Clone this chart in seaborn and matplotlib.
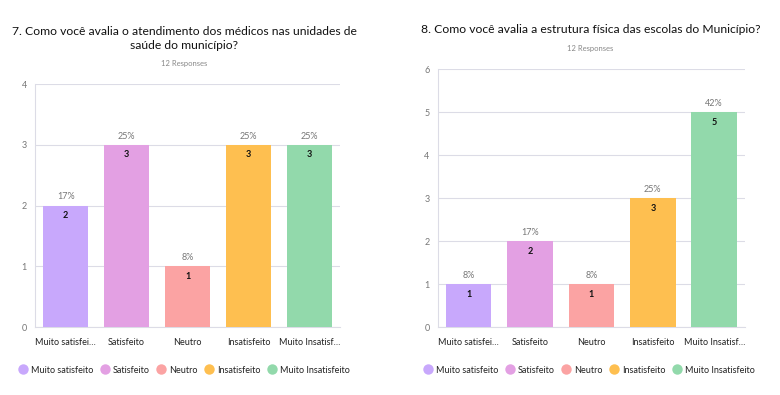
import matplotlib
matplotlib.use("Agg")
import matplotlib.pyplot as plt
import seaborn as sns
import pandas as pd
from matplotlib.lines import Line2D

categories = ["Muito satisfeito", "Satisfeito", "Neutro", "Insatisfeito", "Muito Insatisfeito"]
tick_labels = ["Muito satisfei…", "Satisfeito", "Neutro", "Insatisfeito", "Muito Insatisf…"]
counts_q7 = [2, 3, 1, 3, 3]
pct_q7 = ["17%", "25%", "8%", "25%", "25%"]
counts_q8 = [1, 2, 1, 3, 5]
pct_q8 = ["8%", "17%", "8%", "25%", "42%"]
title_q7 = "7. Como você avalia o atendimento dos médicos nas unidades de\nsaúde do município?"
title_q8 = "8. Como você avalia a estrutura física das escolas do Município?"
responses = "12 Responses"
colors = ["#C8A8FC", "#E3A0E3", "#FBA3A3", "#FEBF50", "#92D9AB"]

sns.set_theme(style="white")
plt.rcParams['font.family'] = ['Lato', 'DejaVu Sans']

fig = plt.figure(figsize=(7.8, 3.95), dpi=100)
ax1 = fig.add_axes([0.045, 0.172, 0.391, 0.615])
ax2 = fig.add_axes([0.5615, 0.172, 0.3935, 0.653])

grid_c = "#DCDCE6"

def draw(ax, counts, pcts, ymax):
    df = pd.DataFrame({"cat": categories, "n": counts})
    sns.barplot(data=df, x="cat", y="n", hue="cat", palette=colors, order=categories,
                hue_order=categories, dodge=False, width=0.74, legend=False, ax=ax,
                saturation=1, zorder=3)
    ax.set_ylim(0, ymax)
    ax.set_yticks(range(0, ymax + 1))
    ax.set_xlim(-0.5, 4.5)
    ax.grid(axis="y", color=grid_c, linewidth=0.8, zorder=0)
    ax.set_axisbelow(True)
    for s in ["top", "right"]:
        ax.spines[s].set_visible(False)
    for s in ["left", "bottom"]:
        ax.spines[s].set_color(grid_c)
        ax.spines[s].set_linewidth(0.8)
    ax.set_xlabel("")
    ax.set_ylabel("")
    ax.set_xticks(range(5))
    ax.set_xticklabels(tick_labels, fontsize=6.5, color="#222222")
    ax.tick_params(axis="x", length=4, color=grid_c, pad=4)
    ax.tick_params(axis="y", length=4, color=grid_c, labelsize=6.5, labelcolor="#777777", pad=2)
    for cont in ax.containers:
        for p in cont:
            h = p.get_height()
            if h <= 0 or h != h:
                continue
            x = p.get_x() + p.get_width() / 2
            i = int(round(x))
            ax.annotate(pcts[i], (x, h), xytext=(0, 3), textcoords="offset points",
                        ha="center", va="bottom", fontsize=6.5, color="#777777")
            ax.annotate(str(counts[i]), (x, h), xytext=(0, -4), textcoords="offset points",
                        ha="center", va="top", fontsize=6.5, color="#111111", fontweight="bold")
    for p in ax.patches:
        p.set_edgecolor("none")

draw(ax1, counts_q7, pct_q7, 4)
draw(ax2, counts_q8, pct_q8, 6)

fig.text(0.236, 0.903, title_q7, ha="center", va="center", fontsize=8.7, color="#111111", linespacing=1.3)
fig.text(0.236, 0.840, responses, ha="center", va="center", fontsize=5.5, color="#888888")
fig.text(0.757, 0.925, title_q8, ha="center", va="center", fontsize=8.7, color="#111111")
fig.text(0.757, 0.878, responses, ha="center", va="center", fontsize=5.5, color="#888888")

handles = [Line2D([0], [0], marker="o", linestyle="", markersize=7.5, markerfacecolor=c,
                  markeredgecolor="none") for c in colors]
for ax, cx in [(ax1, 0.236), (ax2, 0.755)]:
    fig.legend(handles, categories, loc="center", bbox_to_anchor=(cx, 0.063), ncol=5,
               frameon=False, fontsize=6.5, handletextpad=0.35, columnspacing=0.8,
               handlelength=1.0, labelcolor="#222222")

fig.savefig("out.png", dpi=100, facecolor="white")
